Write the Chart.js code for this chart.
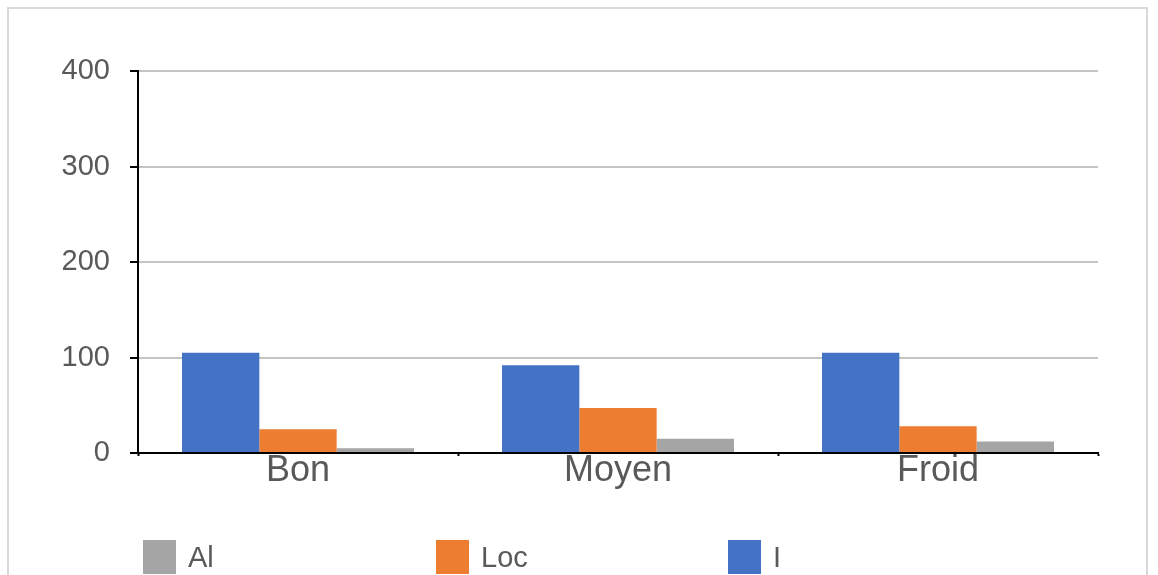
<!DOCTYPE html>
<html>
<head>
<meta charset="utf-8">
<script src="https://cdn.jsdelivr.net/npm/chart.js@4/dist/chart.umd.min.js"></script>
<style>
  html, body { margin: 0; padding: 0; background: #fff; overflow: hidden; }
  #wrap { position: relative; width: 1158px; height: 575px; }
  #frame { position: absolute; left: 7px; top: 7px; width: 1141px; height: 620px; border: 2px solid #d9d9d9; box-sizing: border-box; }
  canvas { position: absolute; left: 0; top: 0; }
  .leg { position: absolute; top: 540px; height: 34px; display: flex; align-items: center; font-family: "Liberation Sans", Arial, sans-serif; font-size: 29px; color: #595959; }
  .leg span.box { display: inline-block; width: 33px; height: 34px; margin-right: 12px; }
</style>
</head>
<body>
<div id="wrap">
  <div id="frame"></div>
  <canvas id="c" width="1158" height="575"></canvas>
  <div id="legend"></div>
</div>
<script>
const categories = ["Bon", "Moyen", "Froid"];
const seriesNames = ["I", "Loc", "Al"];
const valuesI = [105, 92, 105];
const valuesLoc = [25, 47, 28];
const valuesAl = [5, 15, 12];
const yTicks = [0, 100, 200, 300, 400];
const colors = ["#4472C4", "#ED7D31", "#A5A5A5"];

const font = "'Liberation Sans', Arial, sans-serif";
const seriesValues = [valuesI, valuesLoc, valuesAl];

const chart = new Chart(document.getElementById('c'), {
  type: 'bar',
  data: {
    labels: categories,
    datasets: seriesNames.map((n, i) => ({
      label: n,
      data: seriesValues[i],
      backgroundColor: colors[i],
      borderWidth: 0,
      categoryPercentage: 0.725,
      barPercentage: 1.0
    }))
  },
  options: {
    responsive: false,
    devicePixelRatio: 1,
    animation: false,
    layout: { padding: { left: 0, right: 60, top: 71, bottom: 0 } },
    plugins: { legend: { display: false }, tooltip: { enabled: false } },
    scales: {
      x: {
        grid: { drawOnChartArea: false, drawTicks: true, tickLength: 3, tickColor: '#000', tickWidth: 2, offset: true },
        border: { display: true, color: '#000', width: 2 },
        ticks: { font: { family: font, size: 36 }, color: '#595959', padding: -7 },
        afterFit: (s) => { s.height = 122; }
      },
      y: {
        min: 0, max: 400,
        afterBuildTicks: (s) => { s.ticks = yTicks.map(v => ({ value: v })); },
        grid: { color: '#c4c4c4', lineWidth: 2, tickLength: 8, tickColor: '#000', tickWidth: 2 },
        border: { display: true, color: '#000', width: 2 },
        ticks: { font: { family: font, size: 29 }, color: '#595959', padding: 20 },
        afterFit: (s) => { s.width = 138; }
      }
    }
  }
});

// HTML legend (real text), order Al, Loc, I
const legendEl = document.getElementById('legend');
const legendOrder = [2, 1, 0];
const legendX = [143, 436, 728];
legendOrder.forEach((idx, k) => {
  const d = document.createElement('div');
  d.className = 'leg';
  d.style.left = legendX[k] + 'px';
  const b = document.createElement('span');
  b.className = 'box';
  b.style.background = colors[idx];
  d.appendChild(b);
  d.appendChild(document.createTextNode(seriesNames[idx]));
  legendEl.appendChild(d);
});
</script>
</body>
</html>
